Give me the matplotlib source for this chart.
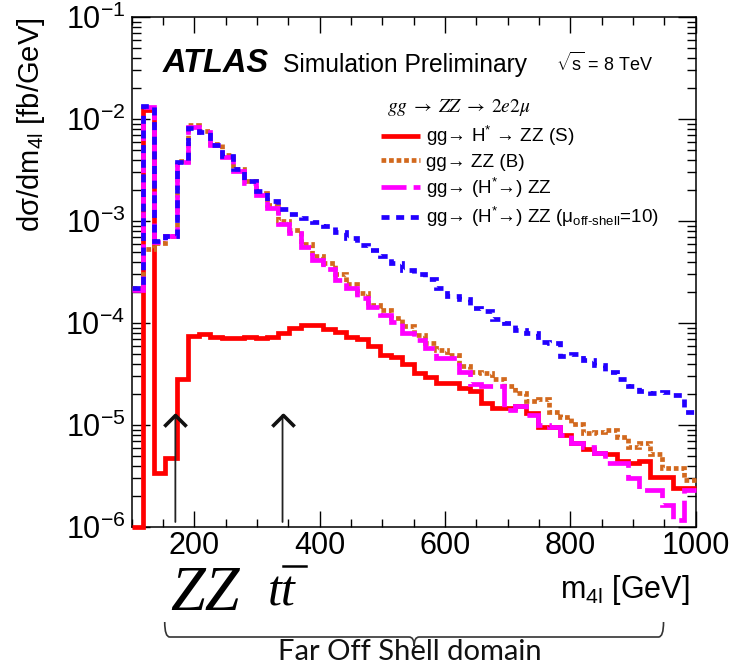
import numpy as np
import matplotlib
matplotlib.use("Agg")
import matplotlib.pyplot as plt
import matplotlib.transforms as mtransforms
from matplotlib.path import Path
from matplotlib.patches import PathPatch
from matplotlib.lines import Line2D
from matplotlib.ticker import MultipleLocator, LogLocator, LogFormatterSciNotation, NullFormatter

plt.rcParams['font.family'] = ['Liberation Sans', 'DejaVu Sans']
plt.rcParams['mathtext.fontset'] = 'custom'
plt.rcParams['mathtext.rm'] = 'Liberation Sans'
plt.rcParams['mathtext.it'] = 'Liberation Sans:italic'
plt.rcParams['mathtext.bf'] = 'Liberation Sans:bold'

# ---- binning: 50 bins of 18 GeV in m4l ----
m4l_lo, m4l_hi, n_bins = 100.0, 1000.0, 50
edges = np.linspace(m4l_lo, m4l_hi, n_bins + 1)

# ---- dsigma/dm4l [fb/GeV] per bin ----
signal = [1.0e-6, 1.23e-2, 3.4e-6, 4.8e-6, 2.8e-5, 7.5e-5, 7.8e-5, 7.3e-5, 7.1e-5, 7.1e-5,
          7.35e-5, 7.1e-5, 7.35e-5, 7.9e-5, 8.9e-5, 9.5e-5, 9.5e-5, 8.8e-5, 8.1e-5, 7.3e-5,
          6.9e-5, 5.9e-5, 4.9e-5, 4.65e-5, 4.0e-5, 3.2e-5, 2.95e-5, 2.6e-5, 2.6e-5, 2.3e-5,
          2.15e-5, 1.65e-5, 1.47e-5, 1.47e-5, 1.55e-5, 1.3e-5, 9.5e-6, 9.6e-6, 8.0e-6, 6.6e-6,
          5.8e-6, 5.3e-6, 5.2e-6, 4.4e-6, 4.2e-6, 4.4e-6, 3.1e-6, 3.1e-6, 2.4e-6, 2.4e-6]

background = [2.2e-4, 5.3e-4, 6.1e-4, 7.2e-4, 3.9e-3, 8.7e-3, 7.7e-3, 5.7e-3, 4.4e-3, 3.25e-3,
              2.45e-3, 1.9e-3, 1.42e-3, 1.0e-3, 8.1e-4, 5.9e-4, 4.5e-4, 3.9e-4, 3.0e-4, 2.4e-4,
              1.95e-4, 1.5e-4, 1.33e-4, 1.13e-4, 9.3e-5, 7.6e-5, 6.4e-5, 5.4e-5, 4.9e-5, 3.8e-5,
              3.3e-5, 3.2e-5, 2.8e-5, 2.4e-5, 2.05e-5, 1.7e-5, 1.8e-5, 1.35e-5, 1.2e-5, 1.03e-5,
              8.3e-6, 8.6e-6, 8.9e-6, 7.7e-6, 6.1e-6, 6.6e-6, 5.2e-6, 3.8e-6, 3.8e-6, 2.9e-6]

total = [2.1e-4, 1.32e-2, 6.2e-4, 7.2e-4, 3.8e-3, 8.3e-3, 7.5e-3, 5.5e-3, 4.2e-3, 3.1e-3,
         2.35e-3, 1.8e-3, 1.34e-3, 9.3e-4, 7.6e-4, 5.6e-4, 4.1e-4, 3.4e-4, 2.65e-4, 2.2e-4,
         1.75e-4, 1.45e-4, 1.2e-4, 1.03e-4, 7.9e-5, 6.8e-5, 5.7e-5, 4.5e-5, 4.5e-5, 3.3e-5,
         2.5e-5, 2.4e-5, 2.4e-5, 1.4e-5, 1.52e-5, 1.25e-5, 1.0e-5, 9.6e-6, 8.0e-6, 6.6e-6,
         6.1e-6, 5.3e-6, 4.2e-6, 4.2e-6, 3.0e-6, 2.3e-6, 2.3e-6, 1.64e-6, 1.17e-6, 2.3e-6]

total_mu10 = [2.2e-4, 1.35e-2, 6.3e-4, 7.2e-4, 3.8e-3, 8.1e-3, 7.4e-3, 5.5e-3, 4.3e-3, 3.2e-3,
              2.45e-3, 1.95e-3, 1.57e-3, 1.32e-3, 1.17e-3, 1.07e-3, 9.8e-4, 9.0e-4, 7.8e-4, 6.8e-4,
              5.8e-4, 5.2e-4, 4.5e-4, 3.9e-4, 3.3e-4, 3.0e-4, 2.7e-4, 2.2e-4, 1.85e-4, 1.7e-4,
              1.4e-4, 1.3e-4, 1.1e-4, 1.0e-4, 8.5e-5, 8.0e-5, 6.5e-5, 6.3e-5, 4.7e-5, 5.0e-5,
              4.3e-5, 3.9e-5, 3.3e-5, 2.8e-5, 2.4e-5, 2.15e-5, 2.05e-5, 2.1e-5, 1.95e-5, 1.35e-5]

labels = [r"gg→ H$^{*}$ → ZZ (S)",
          r"gg→ ZZ (B)",
          r"gg→ (H$^{*}$→) ZZ",
          r"gg→ (H$^{*}$→) ZZ (μ$_{\mathregular{off\text{-}shell}}$=10)"]

# threshold markers (GeV)
zz_threshold = 170.0
tt_threshold = 341.0

# ---- figure ----
W, H = 742, 665
fig = plt.figure(figsize=(W / 100, H / 100), dpi=100)
ax = fig.add_axes([131.5 / W, (H - 527) / H, 564 / W, 510 / H])
ax.set_yscale('log')
ax.set_xlim(m4l_lo, m4l_hi)
ax.set_ylim(1e-6, 1e-1)

lw = 3.4
styles = [
    dict(color='#ff0000', linestyle='-', zorder=3),
    dict(color='#d2691e', linestyle=(0, (1.0, 0.6)), zorder=4),
    dict(color='#ff00ff', linestyle=(0, (5.3, 1.5)), zorder=5),
    dict(color='#2200ff', linestyle=(0, (1.7, 1.4)), zorder=6),
]
series = [signal, background, total, total_mu10]
handles = []
for vals, st, lab in zip(series, styles, labels):
    ax.stairs(vals, edges, baseline=None, fill=False, lw=lw,
              color=st['color'], linestyle=st['linestyle'], zorder=st['zorder'],
              clip_on=False)
    handles.append(Line2D([], [], color=st['color'], linestyle=st['linestyle'],
                          lw=lw, solid_capstyle='butt', dash_capstyle='butt'))

# ---- axes styling ----
for sp in ax.spines.values():
    sp.set_linewidth(1.1)
ax.xaxis.set_major_locator(MultipleLocator(200))
ax.xaxis.set_minor_locator(MultipleLocator(50))
ax.yaxis.set_major_locator(LogLocator(base=10, numticks=10))
ax.yaxis.set_minor_locator(LogLocator(base=10, subs=np.arange(2, 10), numticks=20))
ax.yaxis.set_major_formatter(LogFormatterSciNotation())
ax.yaxis.set_minor_formatter(NullFormatter())
ax.tick_params(which='both', direction='in', top=True, right=True, width=1.0)
ax.tick_params(axis='x', which='major', length=11.5, labelsize=22, pad=3)
ax.tick_params(axis='x', which='minor', length=6)
ax.tick_params(axis='y', which='major', length=13, labelsize=22, pad=4.5)
ax.tick_params(axis='y', which='minor', length=6.5)

ax.set_ylabel(r"dσ/dm$_{\mathregular{4l}}$ [fb/GeV]", fontsize=21, loc='top')
ax.yaxis.set_label_coords(-0.15, 1.0)
ax.set_xlabel(r"m$_{\mathregular{4l}}$ [GeV]", fontsize=22, loc='right')
ax.xaxis.set_label_coords(0.99, -0.09)

# ---- labels inside the frame ----
ax.text(0.056, 0.892, "ATLAS", transform=ax.transAxes, fontsize=23.5,
        fontweight='bold', style='italic', va='baseline', ha='left')
ax.text(0.2686, 0.892, "Simulation Preliminary", transform=ax.transAxes,
        fontsize=17.7, va='baseline', ha='left')
ax.text(0.7527, 0.894, r"$\sqrt{\mathregular{s}}$ = 8 TeV", transform=ax.transAxes,
        fontsize=13, va='baseline', ha='left')
ax.text(0.453, 0.8235, r"$gg\;\rightarrow\;ZZ\;\rightarrow\;2e2\mu$", transform=ax.transAxes,
        fontsize=14, va='center', ha='left', math_fontfamily='stix')

leg = ax.legend(handles, labels, loc='upper left', bbox_to_anchor=(0.442, 0.79),
                frameon=False, fontsize=13.6, handlelength=2.05, handletextpad=0.37,
                borderpad=0, borderaxespad=0, labelspacing=0.28)

# ---- threshold arrows: thin shaft, bold open head ----
chevron = Path([(-0.5, -0.5), (0.0, 0.0), (0.5, -0.5)],
               [Path.MOVETO, Path.LINETO, Path.LINETO])
for xm in (zz_threshold, tt_threshold):
    ax.annotate('', xy=(xm, 1.25e-5), xytext=(xm, 1.12e-6),
                arrowprops=dict(arrowstyle='-', lw=1.3, color='#222222',
                                shrinkA=0, shrinkB=0), zorder=7)
    ax.plot([xm], [1.25e-5], marker=chevron, markersize=16, fillstyle='none',
            markeredgewidth=2.6, color='#111111', zorder=7, clip_on=False)

def fy(py):
    return (H - py) / H

fig.text(170 / W, fy(610), "ZZ", fontsize=45, family='Liberation Serif',
         style='italic', va='baseline', ha='left')
fig.text(268 / W, fy(606), "tt", fontsize=36, family='Liberation Serif',
         style='italic', va='baseline', ha='left')
fig.add_artist(Line2D([283 / W, 306 / W], [fy(566), fy(566)], color='black', lw=1.8,
                      transform=fig.transFigure))

# ---- brace marking the far off-shell region ----
trans = mtransforms.blended_transform_factory(ax.transData, fig.transFigure)
x0, x1 = 153.0, 949.0
xc = 0.5 * (x0 + x1)
yt, ym, yp = fy(622), fy(637), fy(646)
d = 8.0
verts = [(x0, yt), (x0, ym), (x0 + d, ym),
         (xc - d, ym), (xc, ym), (xc, yp),
         (xc, ym), (xc + d, ym),
         (x1 - d, ym), (x1, ym), (x1, yt)]
codes = [Path.MOVETO, Path.CURVE3, Path.CURVE3,
         Path.LINETO, Path.CURVE3, Path.CURVE3,
         Path.CURVE3, Path.CURVE3,
         Path.LINETO, Path.CURVE3, Path.CURVE3]
fig.add_artist(PathPatch(Path(verts, codes), facecolor='none', edgecolor='#333333',
                         lw=1.2, transform=trans, clip_on=False))
fig.text(410 / W, fy(660), "Far Off Shell domain", fontsize=21, family='Lato',
         va='baseline', ha='center', color='#111111')

fig.savefig("out.png", dpi=100)
